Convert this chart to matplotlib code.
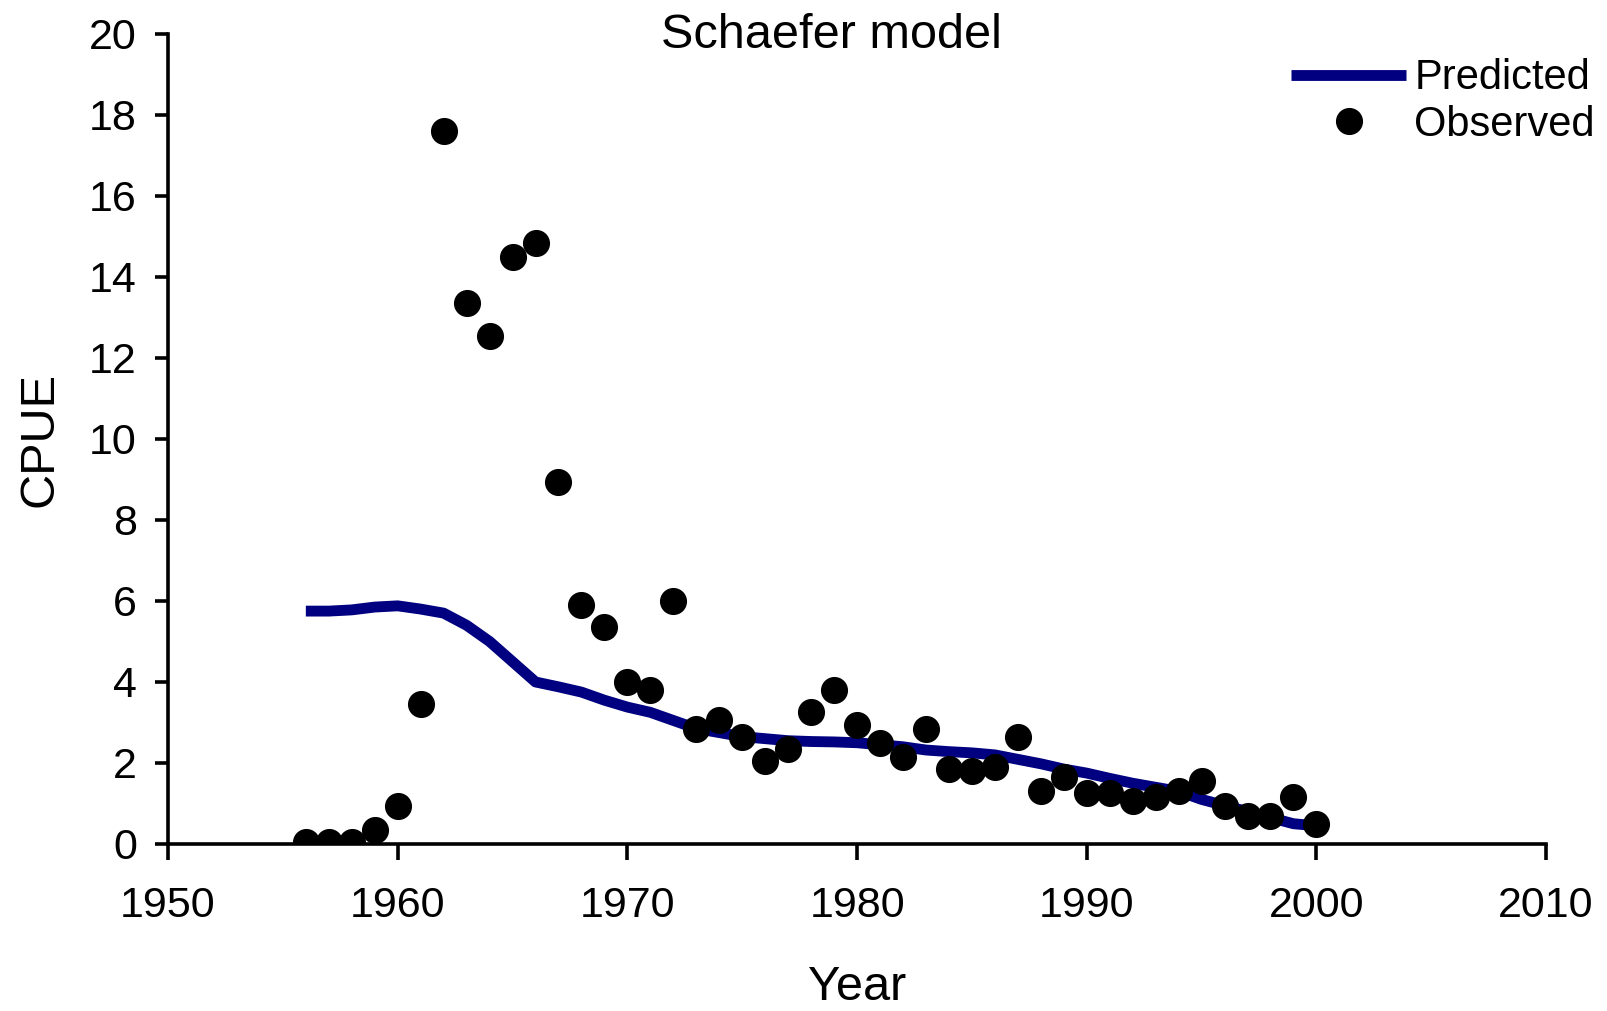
import matplotlib
matplotlib.use("Agg")
import matplotlib.pyplot as plt

plt.rcParams['font.family'] = ['Liberation Sans', 'DejaVu Sans']

years = list(range(1956, 2001))
observed = [0.05, 0.05, 0.05, 0.35, 0.95, 3.45, 17.6, 13.35, 12.55, 14.5,
            14.85, 8.95, 5.9, 5.35, 4.0, 3.8, 6.0, 2.85, 3.05, 2.65,
            2.05, 2.35, 3.25, 3.8, 2.95, 2.5, 2.15, 2.85, 1.85, 1.8,
            1.9, 2.65, 1.3, 1.65, 1.25, 1.25, 1.05, 1.15, 1.3, 1.55,
            0.95, 0.7, 0.7, 1.15, 0.5]
predicted = [5.75, 5.75, 5.78, 5.85, 5.88, 5.8, 5.7, 5.4, 5.0, 4.5,
             4.0, 3.88, 3.75, 3.55, 3.38, 3.25, 3.05, 2.85, 2.75, 2.65,
             2.6, 2.55, 2.53, 2.52, 2.5, 2.45, 2.4, 2.32, 2.28, 2.25,
             2.2, 2.09, 1.98, 1.85, 1.75, 1.62, 1.5, 1.4, 1.3, 1.1,
             0.95, 0.8, 0.65, 0.5, 0.45]

fig = plt.figure(figsize=(16.08, 10.11), dpi=100)
ax = fig.add_axes([0.1045, 0.1652, 0.857, 0.8012])

ax.plot(years, predicted, color='#000080', lw=7.8, label='Predicted',
        solid_capstyle='butt')
ax.plot(years, observed, 'o', color='black', ms=18.5, label='Observed')

ax.set_xlim(1950, 2010)
ax.set_ylim(0, 20)
ax.set_xticks(range(1950, 2011, 10))
ax.set_yticks(range(0, 21, 2))

for s in ['top', 'right']:
    ax.spines[s].set_visible(False)
for s in ['left', 'bottom']:
    ax.spines[s].set_linewidth(2.6)

ax.tick_params(axis='x', length=11.5, width=2.6, pad=19, labelsize=31)
ax.tick_params(axis='y', length=9.5, width=2.6, pad=13, labelsize=31)

ax.set_ylabel('CPUE', fontsize=35, labelpad=19)
ax.set_xlabel('Year', fontsize=35, labelpad=28)

fig.text(831 / 1608, 1 - 35 / 1011, 'Schaefer model', fontsize=35,
         ha='center', va='center')

ax.legend(loc='upper right', bbox_to_anchor=(1.01, 0.971),
          bbox_transform=fig.transFigure, frameon=False, fontsize=30,
          handlelength=2.75, handletextpad=0.2, labelspacing=0.15,
          borderaxespad=0.3, numpoints=1)

fig.savefig('out.png', dpi=100)
